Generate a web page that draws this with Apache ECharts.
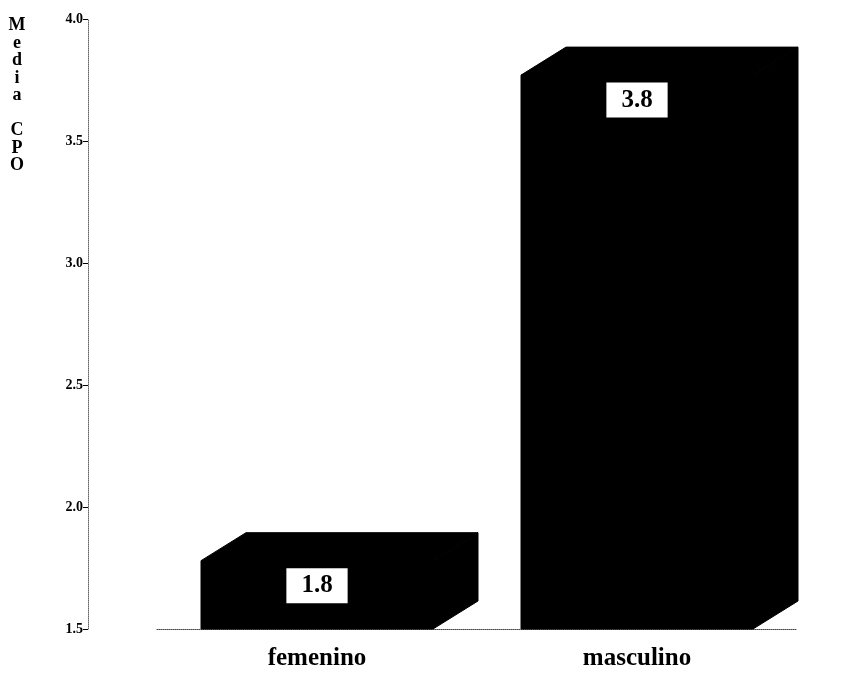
<!DOCTYPE html>
<html>
<head>
<meta charset="utf-8">
<script src="https://cdn.jsdelivr.net/npm/echarts@6/dist/echarts.min.js"></script>
<style>
  html, body { margin: 0; padding: 0; background: #fff; }
  #chart { width: 845px; height: 673px; }
</style>
</head>
<body>
<div id="chart"></div>
<script>
// data
var categories = ['femenino', 'masculino'];
var means = [1.78, 3.77];
var yMin = 1.5, yMax = 4.0, yStep = 0.5;
var yTitle = 'M\ne\nd\ni\na\n\nC\nP\nO';

// fake 3d depth of the boxes, in pixels
var DEPTH_X = 45, DEPTH_Y = 28;
var SERIF = '"Liberation Serif", "DejaVu Serif", serif';

function renderBox(params, api) {
  var idx = api.value(0);
  var val = api.value(1);
  var top = api.coord([idx, val]);
  var base = api.coord([idx, yMin]);
  var w = api.size([1, 0])[0] * 0.725;
  var x0 = top[0] - w / 2, x1 = top[0] + w / 2;
  var y0 = top[1], y1 = base[1];
  var fill = { fill: '#000', stroke: '#000', lineWidth: 1 };

  return {
    type: 'group',
    children: [
      { type: 'rect', shape: { x: x0, y: y0, width: w, height: y1 - y0 }, style: fill },
      { type: 'polygon', shape: { points: [[x0, y0], [x0 + DEPTH_X, y0 - DEPTH_Y], [x1 + DEPTH_X, y0 - DEPTH_Y], [x1, y0]] }, style: fill },
      { type: 'polygon', shape: { points: [[x1, y0], [x1 + DEPTH_X, y0 - DEPTH_Y], [x1 + DEPTH_X, y1 - DEPTH_Y], [x1, y1]] }, style: fill },
      {
        type: 'text',
        x: top[0],
        y: y0 + 25,
        style: {
          text: val.toFixed(1),
          font: 'bold 25px ' + SERIF,
          fill: '#000',
          backgroundColor: '#fff',
          padding: [6, 15, 4, 15],
          align: 'center',
          verticalAlign: 'middle'
        }
      }
    ]
  };
}

var chart = echarts.init(document.getElementById('chart'), null, { renderer: 'canvas' });

chart.setOption({
  backgroundColor: '#fff',
  animation: false,
  grid: { left: 157, right: 48, top: 19, bottom: 44 },
  xAxis: {
    type: 'category',
    data: categories,
    axisLine: { lineStyle: { color: '#444', width: 1, type: 'dotted' } },
    axisTick: { alignWithLabel: true, length: 4, lineStyle: { color: '#000' } },
    axisLabel: { color: '#000', fontFamily: SERIF, fontSize: 25, fontWeight: 'bold', margin: 17 }
  },
  yAxis: {
    type: 'value',
    min: yMin,
    max: yMax,
    interval: yStep,
    offset: 69,
    axisLine: { show: true, lineStyle: { color: '#666', width: 1, type: 'dotted' } },
    axisTick: { show: true, length: 5, lineStyle: { color: '#000' } },
    axisLabel: {
      color: '#000', fontFamily: SERIF, fontSize: 14, fontWeight: 'bold', margin: 5,
      formatter: function (v) { return v.toFixed(1); }
    },
    splitLine: { show: false }
  },
  graphic: [{
    type: 'text',
    x: 17,
    y: 17,
    style: {
      text: yTitle,
      font: 'bold 18px ' + SERIF,
      lineHeight: 17.5,
      fill: '#000',
      align: 'center'
    }
  }],
  series: [{
    type: 'custom',
    renderItem: renderBox,
    encode: { x: 0, y: 1 },
    data: categories.map(function (c, i) { return [i, means[i]]; }),
    clip: false
  }]
});

window.addEventListener('resize', function () { chart.resize(); });
</script>
</body>
</html>
